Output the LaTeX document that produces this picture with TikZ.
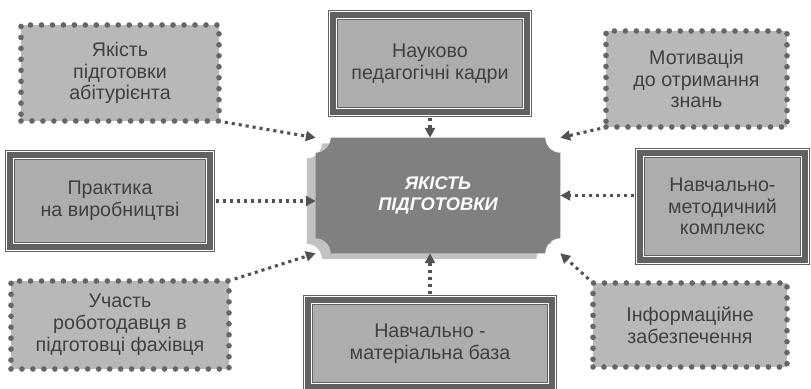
\documentclass[tikz,border=0pt]{standalone}
\usepackage{fontspec}
\setmainfont{Liberation Sans}
\usetikzlibrary{arrows.meta}
\usetikzlibrary{backgrounds}
\def\boxfont{\fontsize{14}{15.5}\selectfont}
\def\notch{3.75mm}
\definecolor{stampgrey}{rgb}{0.72,0.72,0.72}
\definecolor{dotgrey}{rgb}{0.40,0.40,0.40}
\definecolor{framegrey}{rgb}{0.38,0.38,0.38}
\definecolor{panelgrey}{rgb}{0.68,0.68,0.68}
\definecolor{centregrey}{rgb}{0.50,0.50,0.50}
\definecolor{shadowgrey}{rgb}{0.76,0.76,0.76}
\definecolor{textgrey}{rgb}{0.25,0.25,0.25}
\definecolor{arrowgrey}{rgb}{0.32,0.32,0.32}

\tikzset{
  stamp/.style={rectangle, align=center, font=\boxfont, text=textgrey, fill=stampgrey, inner sep=0pt,
    postaction={draw=dotgrey, line width=4pt, line cap=round, dash pattern=on 0pt off 7.8pt}},
  framed/.style={rectangle, align=center, font=\boxfont, text=textgrey, inner sep=0pt,
    preaction={fill=panelgrey},
    postaction={draw=framegrey, line width=7pt},
    postaction={draw=white, line width=5.8pt},
    postaction={draw=framegrey, line width=3.8pt}},
  flow/.style={draw=arrowgrey, line width=2.2pt, dash pattern=on 2.2pt off 2.8pt,
    -{Triangle[length=7pt,width=7pt]}, shorten <=4pt}
}
\def\centrepath{([xshift=\notch]centre.north west) -- ([xshift=-\notch]centre.north east)
  arc[start angle=180, end angle=270, radius=\notch] -- ([yshift=\notch]centre.south east)
  arc[start angle=90, end angle=180, radius=\notch] -- ([xshift=\notch]centre.south west)
  arc[start angle=0, end angle=90, radius=\notch] -- ([yshift=-\notch]centre.north west)
  arc[start angle=270, end angle=360, radius=\notch] -- cycle}

\begin{document}
\begin{tikzpicture}[x = 0.25mm, y = 0.25mm]
  \useasboundingbox (0,0) rectangle (811,389);

  % central node
  \node [minimum width=61mm, minimum height=28.75mm, inner sep=0pt, text=white,
    font=\fontsize{13}{14.5}\selectfont\bfseries\itshape, align=center] (centre) at (438,193.5)
    {ЯКІСТЬ\\ПІДГОТОВКИ};
  \begin{scope}[on background layer]
    \fill [shadowgrey, transform canvas={shift={(-2.2mm,-1.4mm)}}] \centrepath;
    \fill [centregrey] \centrepath;
  \end{scope}

  % surrounding boxes
  \node [stamp, minimum width=49.5mm, minimum height=24mm] (abit) at (120,316)
    {Якість\\підготовки\\абітурієнта};
  \node [framed, minimum width=48.5mm, minimum height=24.25mm] (kadry) at (430,325.5)
    {Науково\\педагогічні кадри};
  \node [stamp, minimum width=45.25mm, minimum height=24mm] (motiv) at (696.5,310)
    {Мотивація\\до отримання\\знань};
  \node [framed, minimum width=50mm, minimum height=23mm] (praktyka) at (110,188)
    {Практика\\на виробництві};
  \node [framed, minimum width=41.25mm, minimum height=26.75mm] (kompleks) at (722.5,182.5)
    {Навчально-\\методичний\\комплекс};
  \node [stamp, minimum width=54.5mm, minimum height=22mm] (robot) at (120,64)
    {Участь\\роботодавця в\\підготовці фахівця};
  \node [framed, minimum width=61mm, minimum height=21.75mm] (baza) at (430,45.5)
    {Навчально -\\матеріальна база};
  \node [stamp, minimum width=48.5mm, minimum height=21mm] (inform) at (690,64)
    {Інформаційне\\забезпечення};

  % arrows
  \draw [flow] (abit.south east) -- (centre.north west);
  \draw [flow] (kadry.south) -- (kadry.south |- centre.north);
  \draw [flow] (motiv.south west) -- (centre.north east);
  \draw [flow] (praktyka.east) -- (praktyka.east -| centre.west);
  \draw [flow] (centre.east -| kompleks.west) -- (centre.east);
  \draw [flow] (robot.north east) -- (centre.south west);
  \draw [flow] (baza.north) -- (baza.north |- centre.south);
  \draw [flow] (inform.north west) -- (centre.south east);
\end{tikzpicture}
\end{document}
